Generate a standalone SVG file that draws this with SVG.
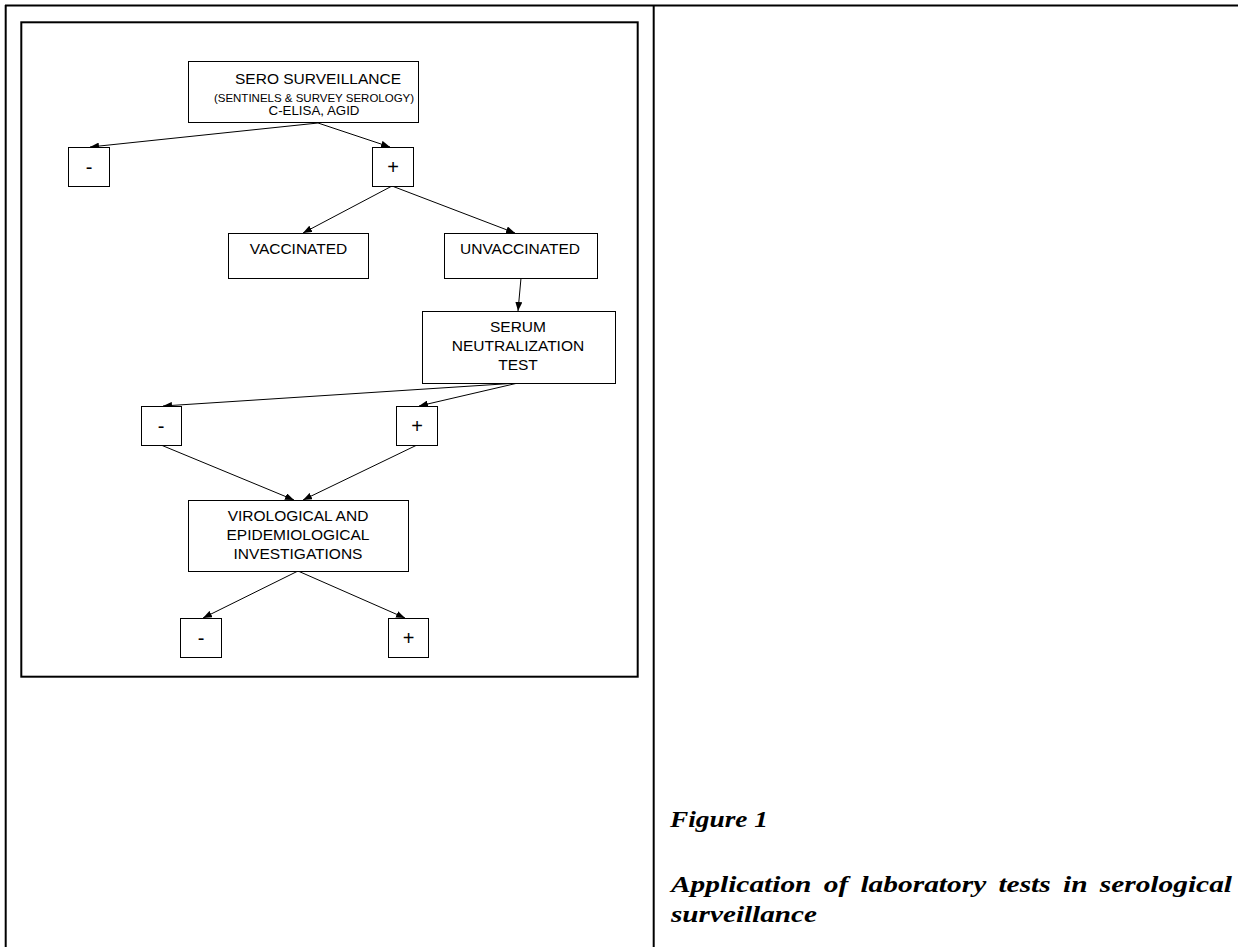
<svg xmlns="http://www.w3.org/2000/svg" width="1238" height="947" viewBox="0 0 1238 947">
<defs>
<style>
.frame{fill:none;stroke:#000;stroke-width:2}
.node rect{fill:#fff;stroke:#000;stroke-width:1}
.node text{font-family:"Liberation Sans",Arial,sans-serif;font-size:15.5px;fill:#000;text-anchor:middle}
.node text.small{font-size:11.5px}
.node text.mid{font-size:13.3px}
.node text.sign{font-size:20px}
.conn line{stroke:#000;stroke-width:1;marker-end:url(#arr)}
.cap{font-family:"Liberation Serif","Times New Roman",serif;font-weight:bold;font-style:italic;font-size:24px;fill:#000}
</style>
<marker id="arr" markerUnits="userSpaceOnUse" markerWidth="9" markerHeight="7" refX="9" refY="3.5" orient="auto">
<path d="M0,0 L9,3.5 L0,7 z" fill="#000"/>
</marker>
</defs>
<rect width="1238" height="947" fill="#fff"/>
<g id="frame">
<line class="frame" x1="5" y1="5.5" x2="1238" y2="5.5"/>
<line class="frame" x1="5.7" y1="5" x2="5.7" y2="947"/>
<line class="frame" x1="653.7" y1="5" x2="653.7" y2="947"/>
<rect class="frame" x="21.3" y="22.3" width="616.4" height="654.4"/>
</g>
<g id="connectors" class="conn">
<line x1="318" y1="123" x2="90" y2="147"/>
<line x1="318" y1="123" x2="390" y2="147"/>
<line x1="392" y1="186" x2="303" y2="233"/>
<line x1="392" y1="186" x2="515" y2="233"/>
<line x1="521" y1="278" x2="518" y2="311"/>
<line x1="518" y1="383" x2="163" y2="406"/>
<line x1="518" y1="383" x2="419" y2="406"/>
<line x1="161" y1="445" x2="294" y2="500"/>
<line x1="417" y1="445" x2="303" y2="500"/>
<line x1="298" y1="571" x2="203" y2="618"/>
<line x1="298" y1="571" x2="405" y2="618"/>
</g>
<g id="sero" class="node">
<rect x="188.5" y="61.5" width="230" height="61"/>
<text x="318" y="83.5">SERO SURVEILLANCE</text>
<text class="small" x="314" y="101.5">(SENTINELS &amp; SURVEY SEROLOGY)</text>
<text class="mid" x="314" y="115">C-ELISA, AGID</text>
</g>
<g id="neg1" class="node">
<rect x="68.5" y="147.5" width="41" height="39"/>
<text class="sign" x="89" y="174">-</text>
</g>
<g id="pos1" class="node">
<rect x="372.5" y="147.5" width="41" height="39"/>
<text class="sign" x="393" y="174">+</text>
</g>
<g id="vaccinated" class="node">
<rect x="228.5" y="233.5" width="140" height="45"/>
<text x="298.5" y="254">VACCINATED</text>
</g>
<g id="unvaccinated" class="node">
<rect x="444.5" y="233.5" width="153" height="45"/>
<text x="520" y="254">UNVACCINATED</text>
</g>
<g id="serum" class="node">
<rect x="422.5" y="311.5" width="193" height="72"/>
<text x="518" y="331.5">SERUM</text>
<text x="518" y="350.5">NEUTRALIZATION</text>
<text x="518" y="369.5">TEST</text>
</g>
<g id="neg2" class="node">
<rect x="141.5" y="406.5" width="40" height="39"/>
<text class="sign" x="161" y="433">-</text>
</g>
<g id="pos2" class="node">
<rect x="396.5" y="406.5" width="41" height="39"/>
<text class="sign" x="417" y="433">+</text>
</g>
<g id="virological" class="node">
<rect x="188.5" y="500.5" width="220" height="71"/>
<text x="298" y="521">VIROLOGICAL AND</text>
<text x="298" y="540">EPIDEMIOLOGICAL</text>
<text x="298" y="558.5">INVESTIGATIONS</text>
</g>
<g id="neg3" class="node">
<rect x="180.5" y="618.5" width="41" height="39"/>
<text class="sign" x="201" y="645">-</text>
</g>
<g id="pos3" class="node">
<rect x="388.5" y="618.5" width="40" height="39"/>
<text class="sign" x="408.5" y="645">+</text>
</g>
<g id="caption">
<text class="cap" x="670" y="827" textLength="98" lengthAdjust="spacingAndGlyphs">Figure 1</text>
<text class="cap" x="671" y="892" textLength="561" lengthAdjust="spacingAndGlyphs" word-spacing="4">Application of laboratory tests in serological</text>
<text class="cap" x="671" y="922" textLength="146" lengthAdjust="spacingAndGlyphs">surveillance</text>
</g>
</svg>
